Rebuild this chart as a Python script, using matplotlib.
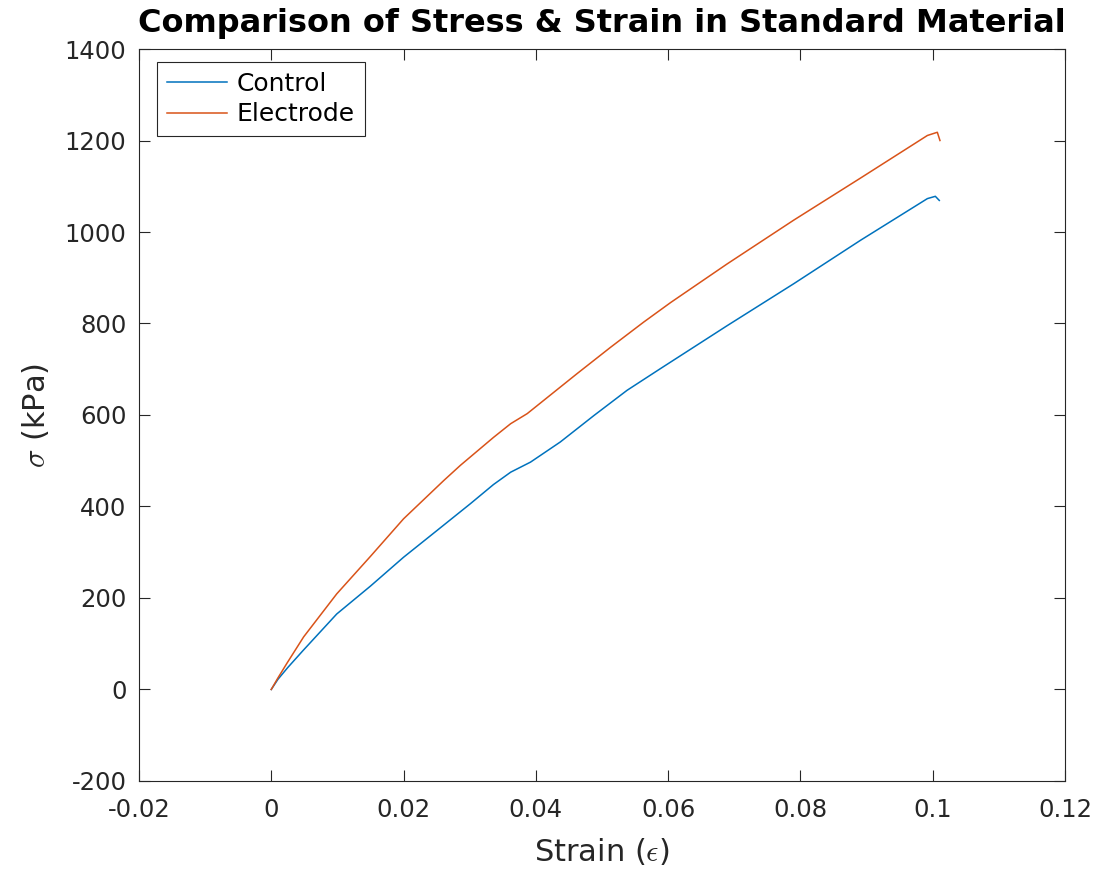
import numpy as np
import matplotlib
matplotlib.use('Agg')
import matplotlib.pyplot as plt

# values
strain_control = [0, 0.001, 0.0025, 0.0048, 0.0099, 0.015, 0.02, 0.0251, 0.0301, 0.0336,
                  0.0362, 0.0392, 0.0437, 0.0488, 0.0538, 0.0588, 0.0689, 0.079,
                  0.0891, 0.0992, 0.1004, 0.101]
stress_control = [0, 22, 48, 85, 165, 226, 289, 348, 406, 448,
                  475, 497, 541, 599, 654, 701, 795, 887,
                  982, 1073, 1078, 1069]

strain_electrode = [0, 0.001, 0.0024, 0.0049, 0.0099, 0.015, 0.02, 0.0261, 0.0286,
                    0.0336, 0.0362, 0.0387, 0.0412, 0.0462, 0.0513, 0.0563, 0.0604,
                    0.0689, 0.079, 0.0891, 0.0992, 0.1007, 0.1011]
stress_electrode = [0, 25, 58, 115, 209, 291, 373, 457, 490,
                    551, 581, 603, 632, 690, 748, 803, 846,
                    930, 1026, 1118, 1211, 1218, 1200]

ink = '#262626'
plt.rcParams['font.family'] = ['DejaVu Sans']
plt.rcParams['mathtext.fontset'] = 'cm'
plt.rcParams['axes.unicode_minus'] = False

fig = plt.figure(figsize=(11.02, 8.69), dpi=100)
ax = fig.add_axes([0.1261, 0.1013, 0.8403, 0.8423])

ax.plot(strain_control, stress_control, color='#0072BD', lw=1.1, label='Control')
ax.plot(strain_electrode, stress_electrode, color='#D95319', lw=1.1, label='Electrode')

ax.set_xlim(-0.02, 0.12)
ax.set_ylim(-200, 1400)
ax.set_xticks(np.arange(-0.02, 0.121, 0.02))
ax.set_xticklabels(['-0.02', '0', '0.02', '0.04', '0.06', '0.08', '0.1', '0.12'])
ax.set_yticks(np.arange(-200, 1401, 200))

ax.tick_params(direction='in', top=True, right=True, length=8, width=0.8,
               labelsize=17.5, colors=ink)
ax.tick_params(axis='x', pad=12)
ax.tick_params(axis='y', pad=9)
for s in ax.spines.values():
    s.set_color(ink)
    s.set_linewidth(0.8)

ax.set_xlabel(r'Strain ($\epsilon$)', fontsize=22, color=ink, labelpad=10)
ax.set_ylabel(r'$\sigma$ (kPa)', fontsize=22, color=ink, labelpad=10)
ax.set_title('Comparison of Stress & Strain in Standard Material',
             fontsize=23, fontweight='bold', pad=12)

leg = ax.legend(loc='upper left', bbox_to_anchor=(0.0194, 0.9822), borderaxespad=0,
                fontsize=18, fancybox=False, framealpha=1, edgecolor=ink,
                handlelength=2.4, handletextpad=0.4, labelspacing=0.25,
                borderpad=0.4)
leg.get_frame().set_linewidth(0.8)

fig.savefig('out.png', dpi=100)
